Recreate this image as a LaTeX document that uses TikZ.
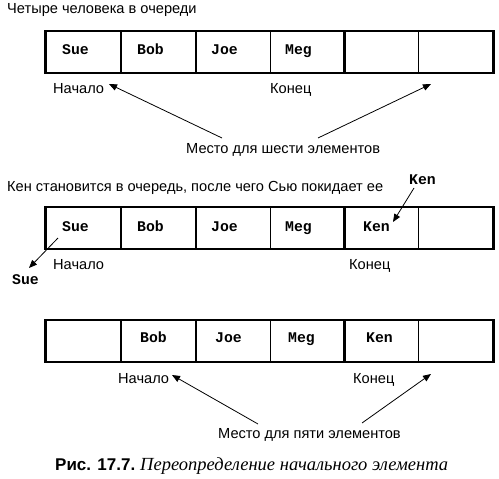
\documentclass[tikz,border=0pt]{standalone}
\usepackage{fontspec}
\setmainfont{Liberation Sans}
\setmonofont{Liberation Mono}
\newfontfamily\capserif{Liberation Serif}
\usetikzlibrary{arrows.meta,calc}
\begin{document}
\begin{tikzpicture}[x=1pt,y=-1pt,
  cell/.style={draw,line width=1.5pt,minimum width=74.5pt,minimum height=41pt,inner sep=0pt},
  qframe/.style={draw,line width=2.2pt},
  person/.style={font=\fontsize{14.8}{14.8}\selectfont\ttfamily\bfseries,inner sep=0pt,anchor=base west},
  txt/.style={font=\fontsize{14.6}{14.6}\selectfont,inner sep=0pt,anchor=base west},
  arr/.style={line width=0.8pt,-{Triangle[length=8pt,width=6.5pt]}}]
\useasboundingbox (0,0) rectangle (499,479);
% ---------- row 1
\node[txt] (t1) at (7,13) {Четыре человека в очереди};
\foreach \i/\x in {1/83.5,2/158.25,3/233,4/307.5,5/381.25,6/455.5}{
  \node[cell] (a\i) at (\x,52) {};
}
\draw[qframe] (a1.north west) rectangle (a6.south east);
\node[person] at (62,54) (a1t) {Sue};
\node[person] at (137,54) (a2t) {Bob};
\node[person] at (211,54) (a3t) {Joe};
\node[person] at (285,54) (a4t) {Meg};
\node[txt] (h1) at (53,93) {Начало};
\node[txt] (e1) at (270,93) {Конец};
\node[txt] (m1) at (186,153) {Место для шести элементов};
\coordinate (m1a) at (222,138);
\coordinate (m1b) at (318,138);
\coordinate (h1p) at (109,84);
\coordinate (e1p) at (431,84);
\draw[arr] (m1a) -- (h1p);
\draw[arr] (m1b) -- (e1p);
% ---------- row 2
\node[txt] (t2) at (7,191) {Кен становится в очередь, после чего Сью покидает ее};
\foreach \i/\x in {1/83.5,2/158.25,3/233,4/307.5,5/381.25,6/455.5}{
  \node[cell] (b\i) at (\x,228) {};
}
\draw[qframe] (b1.north west) rectangle (b6.south east);
\node[person] at (62,231) (b1t) {Sue};
\node[person] at (137,231) (b2t) {Bob};
\node[person] at (211,231) (b3t) {Joe};
\node[person] at (285,231) (b4t) {Meg};
\node[person] at (363,231) (b5t) {Ken};
\node[person] at (409,184) (kin) {Ken};
\node[person] at (12,284) (sout) {Sue};
\coordinate (kina) at (414,188);
\coordinate (kinb) at (393,222);
\coordinate (souta) at (58,238);
\coordinate (soutb) at (29,268);
\draw[arr] (kina) -- (kinb);
\draw[arr] (souta) -- (soutb);
\node[txt] (h2) at (53,269) {Начало};
\node[txt] (e2) at (349,269) {Конец};
% ---------- row 3
\foreach \i/\x in {1/83.5,2/158.25,3/233,4/307.5,5/381.25,6/455.5}{
  \node[cell] (c\i) at (\x,341) {};
}
\draw[qframe] (c1.north west) rectangle (c6.south east);
\node[person] at (140,342) (c2t) {Bob};
\node[person] at (215,342) (c3t) {Joe};
\node[person] at (288,342) (c4t) {Meg};
\node[person] at (366,342) (c5t) {Ken};
\node[txt] (h3) at (118,383) {Начало};
\node[txt] (e3) at (353,383) {Конец};
\node[txt] (m3) at (218,438) {Место для пяти элементов};
\coordinate (m3a) at (258,424);
\coordinate (m3b) at (362,423);
\coordinate (h3p) at (172,375);
\coordinate (e3p) at (431,374);
\draw[arr] (m3a) -- (h3p);
\draw[arr] (m3b) -- (e3p);
% ---------- caption
\node[inner sep=0pt,anchor=base west,font=\fontsize{17}{17}\selectfont\bfseries] (cap1) at (55,470) {Рис. 17.7.};
\node[inner sep=0pt,anchor=base west,font=\fontsize{18.5}{18.5}\selectfont\capserif\itshape] (cap2) at (140,470) {Переопределение начального элемента};
\end{tikzpicture}
\end{document}
